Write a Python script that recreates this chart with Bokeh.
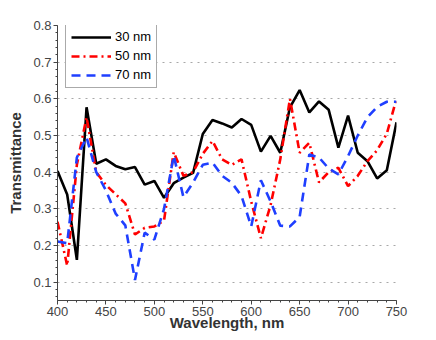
from bokeh.plotting import figure
from bokeh.models import Range1d, FixedTicker, Legend
from bokeh.embed import file_html
from bokeh.resources import INLINE

wavelength = [400, 410, 420, 430, 440, 450, 460, 470, 480, 490, 500, 510, 520, 530, 540, 550,
              560, 570, 580, 590, 600, 610, 620, 630, 640, 650, 660, 670, 680, 690, 700, 710,
              720, 730, 740, 750]
t30 = [0.403, 0.339, 0.161, 0.577, 0.423, 0.435, 0.417, 0.408, 0.414, 0.366, 0.376, 0.330,
       0.370, 0.385, 0.398, 0.504, 0.542, 0.533, 0.522, 0.545, 0.529, 0.456, 0.499, 0.453,
       0.577, 0.624, 0.563, 0.593, 0.570, 0.467, 0.554, 0.453, 0.430, 0.383, 0.405, 0.536]
t50 = [0.265, 0.145, 0.420, 0.550, 0.400, 0.365, 0.340, 0.315, 0.230, 0.248, 0.252, 0.268,
       0.455, 0.390, 0.400, 0.450, 0.485, 0.435, 0.420, 0.435, 0.320, 0.220, 0.310, 0.435,
       0.600, 0.453, 0.480, 0.372, 0.400, 0.412, 0.362, 0.390, 0.430, 0.460, 0.505, 0.600]
t70 = [0.211, 0.206, 0.440, 0.495, 0.400, 0.350, 0.287, 0.255, 0.106, 0.235, 0.216, 0.300,
       0.445, 0.332, 0.372, 0.420, 0.426, 0.390, 0.371, 0.335, 0.252, 0.378, 0.320, 0.254,
       0.252, 0.278, 0.448, 0.440, 0.410, 0.394, 0.444, 0.500, 0.550, 0.578, 0.592, 0.592]
labels = ["30 nm", "50 nm", "70 nm"]
y_ticks = [0.1, 0.2, 0.3, 0.4, 0.5, 0.6, 0.7, 0.8]
y_minor = [round(0.06 + 0.02 * i, 2) for i in range(38)]
x_ticks = [400, 450, 500, 550, 600, 650, 700, 750]
x_minor = list(range(400, 751, 10))

FONT = "Liberation Sans"

p = figure(width=430, height=336, output_backend="svg", toolbar_location=None,
           x_range=Range1d(400, 750), y_range=Range1d(0.05, 0.8),
           min_border_left=57, min_border_right=34, min_border_top=25, min_border_bottom=36)
p.outline_line_color = None
p.background_fill_color = "white"
p.border_fill_color = "white"

r30 = p.line(wavelength, t30, line_color="black", line_width=2.6)
r50 = p.line(wavelength, t50, line_color="#ff0000", line_width=2.6, line_dash="8 4 2 4")
r70 = p.line(wavelength, t70, line_color="#1f3fff", line_width=2.6, line_dash="9 6")

p.xgrid.visible = False
p.ygrid.ticker = FixedTicker(ticks=y_ticks)
p.ygrid.grid_line_color = "#a8a8a8"
p.ygrid.grid_line_dash = "2 5"
p.ygrid.grid_line_width = 1
p.ygrid.level = "underlay"

p.xaxis.ticker = FixedTicker(ticks=x_ticks, minor_ticks=x_minor)
p.yaxis.ticker = FixedTicker(ticks=y_ticks, minor_ticks=y_minor)
p.yaxis.formatter.use_scientific = False

for ax in (p.xaxis[0], p.yaxis[0]):
    ax.axis_line_color = "#444444"
    ax.axis_line_width = 1
    ax.major_tick_line_color = "#444444"
    ax.minor_tick_line_color = "#444444"
    ax.major_tick_out = 4
    ax.major_tick_in = 0
    ax.minor_tick_out = 2
    ax.minor_tick_in = 0
    ax.major_label_text_font = FONT
    ax.major_label_text_font_size = "13px"
    ax.major_label_text_color = "#444444"
    ax.major_label_standoff = 2
    ax.axis_label_text_font = FONT
    ax.axis_label_text_font_style = "bold"
    ax.axis_label_text_font_size = "15px"
    ax.axis_label_text_color = "#333333"

p.xaxis.axis_label = "Wavelength, nm"
p.yaxis.axis_label = "Transmittance"
p.xaxis.axis_label_standoff = -5
p.yaxis.axis_label_standoff = 6

legend = Legend(items=[(labels[0], [r30]), (labels[1], [r50]), (labels[2], [r70])],
                location=(8, 212))
legend.label_text_font = FONT
legend.label_text_font_size = "13px"
legend.label_text_color = "black"
legend.glyph_width = 40
legend.glyph_height = 14
legend.label_height = 14
legend.label_standoff = 4
legend.spacing = 4
legend.padding = 5
legend.margin = 0
legend.border_line_color = "#555555"
legend.border_line_width = 1.5
legend.background_fill_color = "white"
legend.background_fill_alpha = 1
p.add_layout(legend, "center")

open("out.html", "w").write(file_html(p, INLINE))
